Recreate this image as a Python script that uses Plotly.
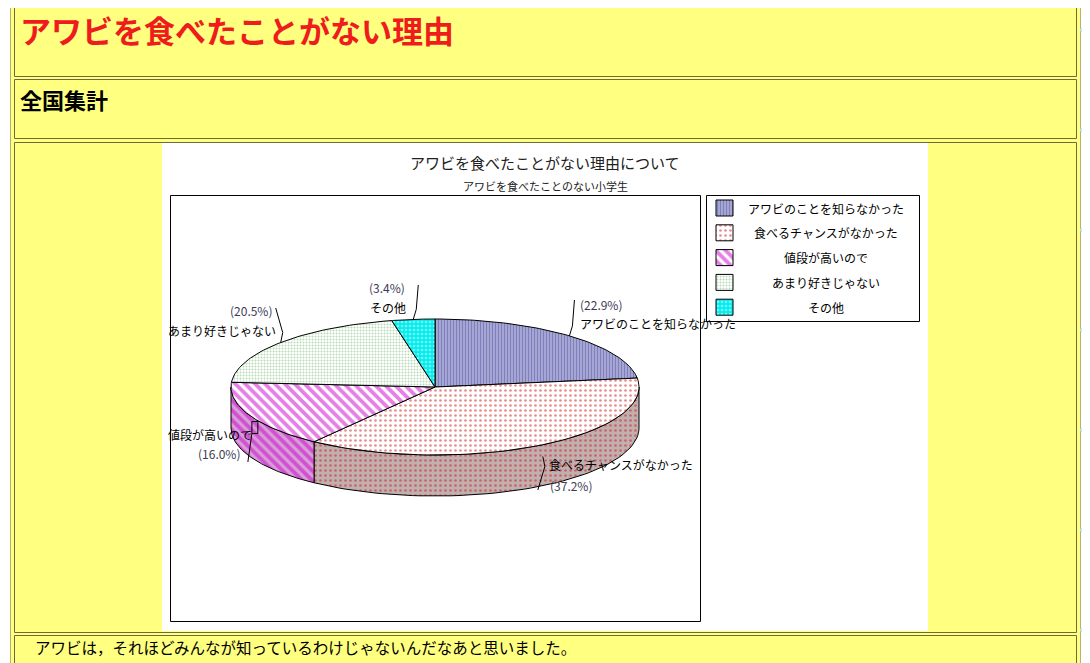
import numpy as np
import plotly.graph_objects as go

# data
reasons = ["アワビのことを知らなかった", "食べるチャンスがなかった", "値段が高いので",
           "あまり好きじゃない", "その他"]
shares = [22.9, 37.2, 16.0, 20.5, 3.4]

page_title = "アワビを食べたことがない理由"
section_title = "全国集計"
chart_title = "アワビを食べたことがない理由について"
chart_subtitle = "アワビを食べたことのない小学生"
comment = "アワビは，それほどみんなが知っているわけじゃないんだなあと思いました。"

# fill patterns per slice: (shape, fg, top bg, side bg, size, solidity)
patterns = [
    ("|", "#000080", "#ffffff", "#ffffff", 3, 0.8),
    (".", "#d01818", "#ffffff", "#c0b0b0", 5, 0.22),
    ("\\", "#cc00cc", "#ffffff", "#d8a0d8", 7, 0.55),
    (".", "#70b870", "#ffffff", "#ffffff", 3, 0.35),
    (".", "#ffffff", "#00eeee", "#00eeee", 4, 0.35),
]

W, H = 1090, 663
OFF = 8  # the page body margin; the axes are shifted so pixels line up
YELLOW = "#ffff80"
FONT = "Noto Sans CJK JP"

# pie geometry (pixels)
cx, cy, rx, ry, depth = 435, 387, 204, 68, 41


def pt(theta, dy=0.0):
    t = np.radians(theta)
    return cx + rx * np.sin(t), cy - ry * np.cos(t) + dy


def arc(a, b, dy=0.0, n=60):
    th = np.linspace(a, b, n)
    xs, ys = pt(th, dy)
    return list(xs), list(ys)


fig = go.Figure()

# page decoration dots (background image on the page)
fig.add_trace(go.Scatter(
    x=[4] * 6 + [1082] * 7,
    y=[93, 193, 293, 393, 493, 593] + [30, 130, 230, 330, 430, 530, 630],
    mode="markers", marker=dict(size=4, color="#b0eef5"),
    hoverinfo="skip", showlegend=False))

edges = np.concatenate([[0], np.cumsum(shares)]) / 100 * 360
mids = (edges[:-1] + edges[1:]) / 2

# side faces (front half only)
for i, name in enumerate(reasons):
    a, b = max(edges[i], 90), min(edges[i + 1], 270)
    if b <= a:
        continue
    shp, fg, _, sbg, sz, sol = patterns[i]
    tx, ty = arc(a, b)
    bx, by = arc(b, a, depth)
    fig.add_trace(go.Scatter(
        x=tx + bx + [tx[0]], y=ty + by + [ty[0]], mode="lines",
        fill="toself", fillcolor=sbg,
        fillpattern=dict(shape=shp, fgcolor=fg, bgcolor=sbg, size=sz, solidity=sol),
        line=dict(color="black", width=1), hoverinfo="skip", showlegend=False))

# top faces
for i, name in enumerate(reasons):
    shp, fg, bg, _, sz, sol = patterns[i]
    ax_, ay_ = arc(edges[i], edges[i + 1])
    fig.add_trace(go.Scatter(
        x=[cx] + ax_ + [cx], y=[cy] + ay_ + [cy], mode="lines",
        fill="toself", fillcolor=bg,
        fillpattern=dict(shape=shp, fgcolor=fg, bgcolor=bg, size=sz, solidity=sol),
        line=dict(color="black", width=1), name=name,
        hovertemplate=name + ": %{customdata}%<extra></extra>",
        customdata=[shares[i]] * (len(ax_) + 2), showlegend=False))

# slice labels: (name pos, pct pos, leader end y)
label_pos = [
    ((578, 323), (578, 304), 300),
    ((547, 464), (548, 485), 490),
    ((166, 434), (196, 453), 462),
    ((166, 330), (228, 310), 308),
    ((368, 307), (367, 287), 285),
]
for i, name in enumerate(reasons):
    (nx, ny), (px, py), ly = label_pos[i]
    if i == 2:
        # small box near the slice edge, then a line down to the label
        ex, ey = pt(mids[i])
        xs = [ex + 2, ex + 2, ex + 8, ex + 8, ex + 2, ex - 2]
        ys = [ey + 18, ey + 6, ey + 6, ey + 18, ey + 18, ly]
    else:
        ex, ey = pt(mids[i], depth if 90 < mids[i] < 270 else 0)
        if i == 1:
            ex, ey = ex + 4, ey - 30
        dx1 = 3 if i in (0, 4) else 2
        dx2 = 5 if i in (0, 4) else -5
        xs = [ex, ex + dx1, ex + dx2]
        ys = [ey, ey - 10 if ey > ly else ey + 10, ly]
    fig.add_trace(go.Scatter(
        x=xs, y=ys, mode="lines", line=dict(color="black", width=1),
        hoverinfo="skip", showlegend=False))
    fig.add_annotation(x=nx, y=ny, text=name, showarrow=False, xanchor="left",
                       yanchor="middle", font=dict(family=FONT, size=12, color="black"))
    fig.add_annotation(x=px, y=py, text="(%.1f%%)" % shares[i], showarrow=False,
                       xanchor="left", yanchor="middle",
                       font=dict(family=FONT, size=12, color="#403a55"))

# legend swatches and texts
for i, name in enumerate(reasons):
    shp, fg, bg, _, sz, sol = patterns[i]
    y0 = 200 + i * 24.8
    fig.add_trace(go.Scatter(
        x=[716, 733, 733, 716, 716], y=[y0, y0, y0 + 16, y0 + 16, y0],
        mode="lines", fill="toself", fillcolor=bg,
        fillpattern=dict(shape=shp, fgcolor=fg, bgcolor=bg, size=sz, solidity=sol),
        line=dict(color="black", width=1), hoverinfo="skip", showlegend=False))
    fig.add_annotation(x=826, y=y0 + 8, text=name, showarrow=False, xanchor="center",
                       yanchor="middle", font=dict(family=FONT, size=12, color="black"))

shapes = [
    # outer table
    dict(type="rect", x0=10.5, y0=0.5, x1=1080.5, y1=720, fillcolor=YELLOW,
         line=dict(color="#b8b070", width=1), layer="below"),
]
for y0, y1 in [(3, 76), (79, 138), (142, 632), (635, 720)]:
    shapes.append(dict(type="rect", x0=14.5, y0=y0 + 0.5, x1=1076.5, y1=y1 + 0.5,
                       fillcolor=YELLOW, line=dict(color="#6e6a3a", width=1),
                       layer="below"))
shapes += [
    dict(type="rect", x0=162, y0=143, x1=928, y1=631, fillcolor="white",
         line=dict(width=0), layer="below"),
    dict(type="rect", x0=170.5, y0=195.5, x1=700.5, y1=621.5,
         line=dict(color="black", width=1), layer="below"),
    dict(type="rect", x0=706.5, y0=195.5, x1=919.5, y1=321.5,
         line=dict(color="black", width=1), layer="below"),
]

fig.add_annotation(x=18, y=29, text="<b>%s</b>" % page_title, showarrow=False,
                   xanchor="left", yanchor="middle",
                   font=dict(family=FONT, size=31, color="#ee1c1c"))
fig.add_annotation(x=18, y=99, text="<b>%s</b>" % section_title, showarrow=False,
                   xanchor="left", yanchor="middle",
                   font=dict(family=FONT, size=22, color="black"))
fig.add_annotation(x=545, y=162, text=chart_title, showarrow=False,
                   xanchor="center", yanchor="middle",
                   font=dict(family=FONT, size=15, color="#202020"))
fig.add_annotation(x=545, y=186, text=chart_subtitle, showarrow=False,
                   xanchor="center", yanchor="middle",
                   font=dict(family=FONT, size=11, color="#202020"))
fig.add_annotation(x=33, y=647, text=comment, showarrow=False,
                   xanchor="left", yanchor="middle",
                   font=dict(family=FONT, size=15.5, color="black"))

fig.update_layout(
    width=W - OFF, height=H - OFF, margin=dict(l=0, r=0, t=0, b=0),
    paper_bgcolor="white", plot_bgcolor="white", shapes=shapes,
    xaxis=dict(range=[OFF, W], visible=False, fixedrange=True),
    yaxis=dict(range=[H, OFF], visible=False, fixedrange=True),
    showlegend=False)

fig.write_html("out.html")
